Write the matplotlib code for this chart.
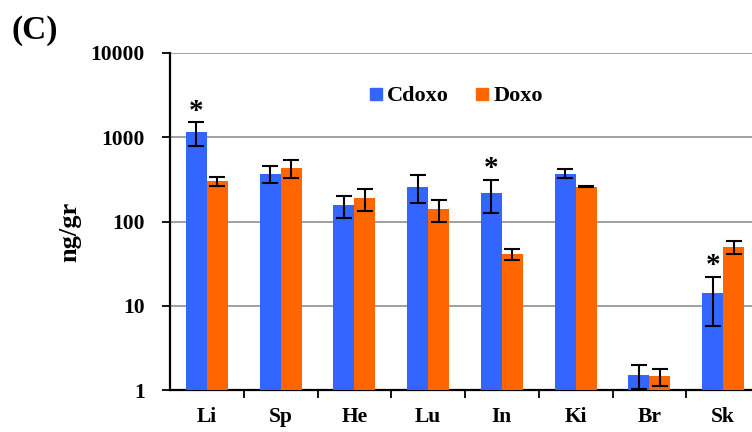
import matplotlib

matplotlib.use("Agg")
import matplotlib.pyplot as plt  # noqa: E402
import numpy as np  # noqa: E402
from matplotlib.lines import Line2D  # noqa: E402
from matplotlib.ticker import FixedLocator, NullLocator  # noqa: E402

organs = ["Li", "Sp", "He", "Lu", "In", "Ki", "Br", "Sk"]
cdoxo = [1150, 370, 155, 260, 220, 370, 1.5, 14]
cdoxo_err = [370, 80, 45, 95, 95, 45, 0.48, 8.2]
doxo = [300, 430, 190, 140, 41, 260, 1.45, 50]
doxo_err = [35, 100, 55, 40, 6.3, 5, 0.32, 9]
starred = ["Li", "In", "Sk"]

BLUE = "#3366ff"
ORANGE = "#ff6600"
plt.rcParams["font.family"] = ["Liberation Serif", "DejaVu Serif"]
plt.rcParams["font.weight"] = "bold"
plt.rcParams["axes.labelweight"] = "bold"

fig = plt.figure(figsize=(7.52, 4.32), dpi=100)
ax = fig.add_axes([170 / 752, 42 / 432, 590 / 752, 337 / 432])

x = np.arange(len(organs))
w = 0.285
err_kw = dict(ecolor="black", elinewidth=1.5, capsize=6, capthick=1.5)
ax.bar(x - w / 2, cdoxo, w, yerr=cdoxo_err, color=BLUE, error_kw=err_kw, zorder=3, label="Cdoxo")
ax.bar(x + w / 2, doxo, w, yerr=doxo_err, color=ORANGE, error_kw=err_kw, zorder=3, label="Doxo")

for name in starred:
    i = organs.index(name)
    ax.annotate("*", (x[i] - w / 2, cdoxo[i] + cdoxo_err[i]), xytext=(0, -2),
                textcoords="offset points", ha="center", va="bottom", fontsize=21)

ax.set_yscale("log")
ax.set_ylim(1, 10000)
ax.set_xlim(-0.5, len(organs) - 0.5)
ax.yaxis.set_major_locator(FixedLocator([1, 10, 100, 1000, 10000]))
ax.yaxis.set_minor_locator(NullLocator())
ax.set_yticklabels(["1", "10", "100", "1000", "10000"])
ax.yaxis.grid(True, color="#999999", lw=1.3, zorder=0)

ax.xaxis.set_major_locator(FixedLocator(x[:-1] + 0.5))
ax.xaxis.set_minor_locator(FixedLocator(x))
ax.set_xticklabels([], minor=False)
ax.set_xticklabels(organs, minor=True)
ax.tick_params(axis="x", which="major", length=6, width=1.3, direction="out")
ax.tick_params(axis="x", which="minor", length=0, pad=12, labelsize=15.5)
ax.tick_params(axis="y", length=6, width=1.3, labelsize=15.5, pad=12)

for side in ("top", "right"):
    ax.spines[side].set_visible(False)
for side in ("left", "bottom"):
    ax.spines[side].set_linewidth(1.6)

ax.set_ylabel("ng/gr", fontsize=19)
ax.yaxis.set_label_coords(81 / 752, 1 - 232 / 432, transform=fig.transFigure)

handles = [Line2D([], [], ls="none", marker="s", markersize=9, color=c) for c in (BLUE, ORANGE)]
fig.legend(handles, ["Cdoxo", "Doxo"], loc="center", bbox_to_anchor=(455 / 752, 1 - 96 / 432),
           ncol=2, frameon=False, fontsize=16, handletextpad=0.1, columnspacing=1.1, handlelength=0.8)

fig.text(12 / 752, 1 - 30 / 432, "(C)", fontsize=24, va="center", ha="left")

fig.savefig("out.png", dpi=100)
